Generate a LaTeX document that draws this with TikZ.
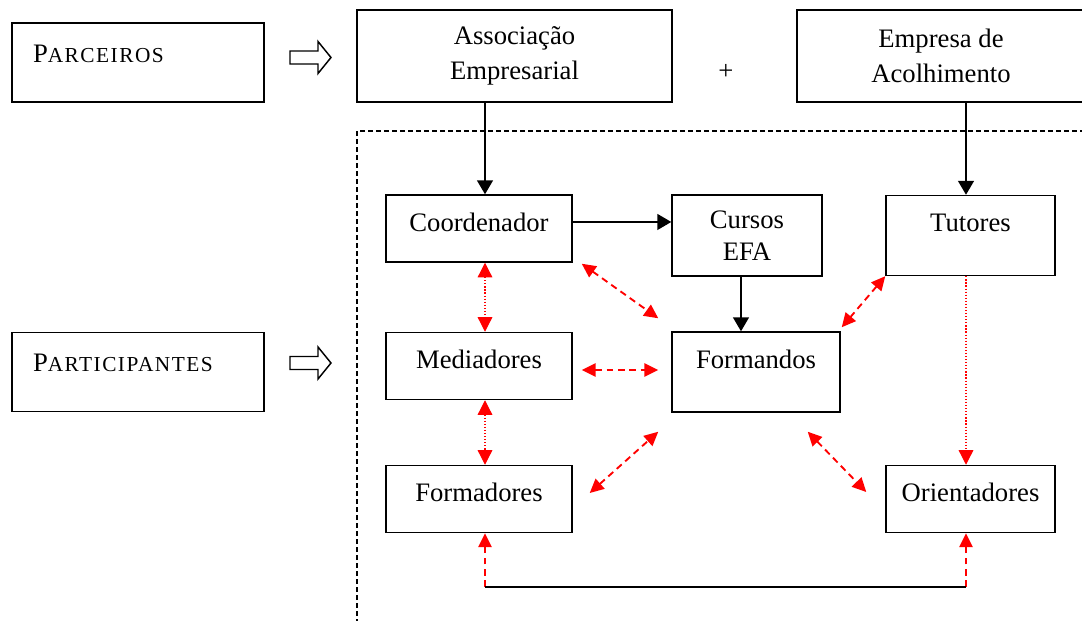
\documentclass[tikz,border=0pt]{standalone}
\usepackage{fontspec}
\setmainfont{Liberation Serif}
\usetikzlibrary{arrows.meta}

\newcommand{\smc}[1]{{\fontsize{16}{16}\selectfont\addfontfeature{LetterSpace=7}#1}}

\begin{document}
\begin{tikzpicture}[x=0.75pt, y=-0.75pt,
	line width = 1.1pt,
	every node/.style={font=\fontsize{20}{26.25}\selectfont},
	box/.style={draw, rectangle, inner sep=0pt},
	group/.style={box, align=left, text width=157.5pt, inner xsep=15.75pt, text height=29.25pt, text depth=30pt},
	partner/.style={box, align=center, minimum height=69pt},
	role/.style={box, minimum width=139.5pt, text height=27pt, text depth=23.25pt},
	tallrole/.style={role, text depth=33pt},
	flow/.style={-{Triangle[length=10.5pt,width=12pt]}},
	tie/.style={{Triangle[length=11pt,width=11pt]}-{Triangle[length=11pt,width=11pt]}, red, line width=0.9pt, dash pattern=on 0.9pt off 1.4pt},
	tiehead/.style={-{Triangle[length=11pt,width=11pt]}, red, line width=0.9pt, dash pattern=on 0.9pt off 1.4pt},
	link/.style={{Triangle[length=10.5pt,width=10pt]}-{Triangle[length=10.5pt,width=10pt]}, red, line width=1.4pt, dash pattern=on 5pt off 3.5pt},
	linkhead/.style={-{Triangle[length=10.5pt,width=10pt]}, red, line width=1.4pt, dash pattern=on 5pt off 3.5pt},
	region/.style={dash pattern=on 3.5pt off 2.5pt},
	hollow/.style={fill=white}]

	\clip (0,0) rectangle (1082,621);

	% left column
	\node [group] (parc) at (138,62.5) {P\smc{ARCEIROS}};
	\node [group] (partic) at (138,372) {P\smc{ARTICIPANTES}};
	\foreach \y in {57.5,363}
		\draw [hollow] (290,\y-6.5) -- (318,\y-6.5) -- (318,\y-16) -- (331,\y) -- (318,\y+16) -- (318,\y+6.5) -- (290,\y+6.5) -- cycle;

	% partners
	\node [partner, minimum width=236.25pt] (assoc) at (514.5,56) {Associação\\Empresarial};
	\node (plus) at (726,72) {+};
	\node [partner, minimum width=216pt] (emp) at (941,56) {Empresa de\\Acolhimento};

	\draw [region] (357,640) |- (1100,131);

	% participants
	\node [role] (coord) at (479,228.5) {Coordenador};
	\node [box, align=center, minimum width=112.5pt, minimum height=60.75pt, font=\fontsize{20}{24}\selectfont] (cursos) at (747,235.5) {Cursos\\EFA};
	\node [tallrole, minimum width=126.75pt] (tut) at (970.5,235.5) {Tutores};
	\node [role] (med) at (479,366) {Mediadores};
	\node [tallrole, minimum width=126pt] (form) at (756,372) {Formandos};
	\node [role] (formd) at (479,499) {Formadores};
	\node [role, minimum width=126.75pt] (orient) at (970.5,499) {Orientadores};

	\coordinate (colL) at (485,0);
	\coordinate (colR) at (966,0);
	\coordinate (bl) at (485,587);
	\coordinate (br) at (966,587);

	\draw [flow] (assoc.south -| colL) -- (coord.north -| colL);
	\draw [flow] (emp.south -| colR) -- (tut.north -| colR);
	\draw [flow] ([yshift=4.9pt]coord.east) -- ([yshift=4.9pt]coord.east -| cursos.west);
	\draw [flow] ([xshift=-4.5pt]cursos.south) -- ([xshift=-4.5pt]cursos.south |- form.north);

	\draw [tie] (coord.south -| colL) -- (med.north -| colL);
	\draw [tie] (med.south -| colL) -- (formd.north -| colL);
	\draw [tiehead] (tut.south -| colR) -- (orient.north -| colR);

	\draw [link] ([shift={(9,1)}]coord.south east) -- ([shift={(-13,-13)}]form.north west);
	\draw [link] ([shift={(9,4)}]med.east) -- ([shift={(-13,-2)}]form.west);
	\draw [link] ([shift={(17,-6)}]formd.east) -- ([shift={(-13,19)}]form.south west);
	\draw [link] ([shift={(-33,19)}]form.south east) -- ([shift={(-19,-7)}]orient.west);
	\draw [link] (tut.south west) -- ([shift={(1,-4)}]form.north east);

	\draw [linkhead] (bl) -- (formd.south -| colL);
	\draw [linkhead] (br) -- (orient.south -| colR);
	\draw (bl) -- (br);

\end{tikzpicture}
\end{document}
